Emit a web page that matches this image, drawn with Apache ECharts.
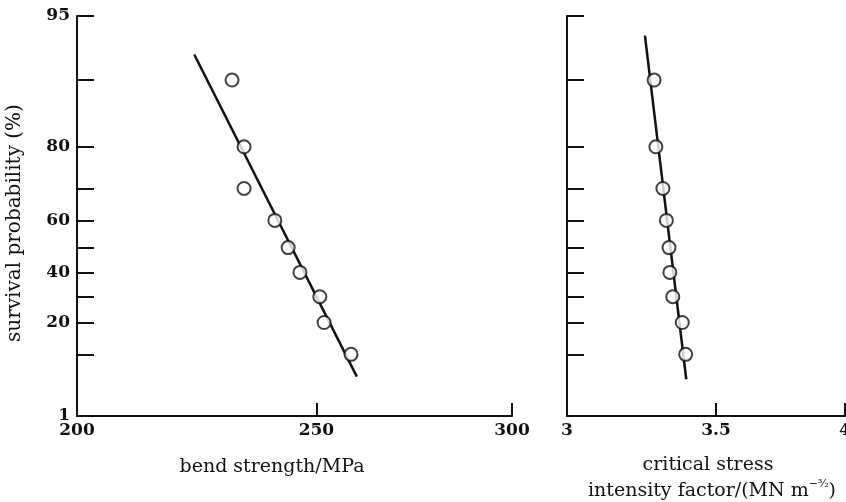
<!DOCTYPE html>
<html>
<head>
<meta charset="utf-8">
<script src="https://cdn.jsdelivr.net/npm/echarts@6/dist/echarts.min.js"></script>
<style>html,body{margin:0;padding:0;background:#fff}#c{width:846px;height:502px}</style>
</head>
<body>
<div id="c"></div>
<script>
// ---- data ----
const survival = [90, 80, 70, 60, 50, 40, 30, 20, 10];               // %
const bendStrength = [231.1, 233.7, 233.7, 240.5, 243.5, 246.2, 250.8, 251.8, 258.2]; // MPa
const toughness = [3.283, 3.289, 3.313, 3.325, 3.334, 3.337, 3.347, 3.380, 3.392];    // MN m^-3/2
const bendFitStrength = [223.1, 259.6];
const bendFitSurvival = [92.4, 5.2];
const toughFitValue = [3.252, 3.394];
const toughFitSurvival = [93.8, 4.75];
const yTickValues = [95, 90, 80, 70, 60, 50, 40, 30, 20, 10, 1];
const yTickLabels = [95, 80, 60, 40, 20, 1];
const bendTicks = [200, 250, 300];
const toughTicks = [3, 3.5, 4];

// Weibull probability scale: ln(ln(1/S)) on y, ln(x) on x
const T = s => -Math.log(Math.log(100 / s));
const Tinv = v => 100 * Math.exp(-Math.exp(-v));
const L = Math.log;

const serif = '"DejaVu Serif", "Liberation Serif", serif';
const tickFont = {fontFamily: serif, fontWeight: 'bold', fontSize: 17, color: '#111'};
const axisLine = {show: true, onZero: false, lineStyle: {color: '#111', width: 2}};

function yAxisCfg(gridIndex, labels) {
  return {
    type: 'value', gridIndex, min: T(1), max: T(95),
    axisLine, splitLine: {show: false},
    axisTick: {show: true, inside: true, length: 17, lineStyle: {color: '#111', width: 2},
      customValues: yTickValues.map(T)},
    axisLabel: Object.assign({show: labels, margin: 7,
      customValues: yTickLabels.map(T),
      formatter: v => String(Math.round(Tinv(v)))}, tickFont)
  };
}
function xAxisCfg(gridIndex, ticks, fmt) {
  return {
    type: 'value', gridIndex, min: L(ticks[0]), max: L(ticks[ticks.length - 1]),
    axisLine, splitLine: {show: false},
    axisTick: {show: true, inside: true, length: 13, lineStyle: {color: '#111', width: 2},
      customValues: ticks.map(L)},
    axisLabel: Object.assign({margin: 6, customValues: ticks.map(L),
      formatter: v => fmt(Math.exp(v))}, tickFont)
  };
}

const pointStyle = {color: '#fff', borderColor: '#111', borderWidth: 2};
const chart = echarts.init(document.getElementById('c'), null, {renderer: 'canvas'});
chart.setOption({
  animation: false,
  backgroundColor: '#fff',
  grid: [
    {left: 77, right: 334, top: 16, bottom: 86, containLabel: false, outerBoundsMode: 'none'},
    {left: 567, right: 1, top: 16, bottom: 86, containLabel: false, outerBoundsMode: 'none'}
  ],
  xAxis: [
    xAxisCfg(0, bendTicks, x => String(Math.round(x))),
    xAxisCfg(1, toughTicks, x => String(Math.round(x * 10) / 10))
  ],
  yAxis: [yAxisCfg(0, true), yAxisCfg(1, false)],
  series: [
    {type: 'line', xAxisIndex: 0, yAxisIndex: 0, symbol: 'none',
      lineStyle: {color: '#111', width: 2.5},
      data: bendFitStrength.map((x, i) => [L(x), T(bendFitSurvival[i])]), z: 2},
    {type: 'scatter', xAxisIndex: 0, yAxisIndex: 0, symbol: 'circle', symbolSize: 13,
      itemStyle: pointStyle, data: bendStrength.map((x, i) => [L(x), T(survival[i])]), z: 3},
    {type: 'line', xAxisIndex: 1, yAxisIndex: 1, symbol: 'none',
      lineStyle: {color: '#111', width: 2.5},
      data: toughFitValue.map((x, i) => [L(x), T(toughFitSurvival[i])]), z: 2},
    {type: 'scatter', xAxisIndex: 1, yAxisIndex: 1, symbol: 'circle', symbolSize: 13,
      itemStyle: pointStyle, data: toughness.map((x, i) => [L(x), T(survival[i])]), z: 3}
  ],
  graphic: [
    {type: 'text', x: 15, y: 223, rotation: Math.PI / 2,
      style: {text: 'survival probability (%)', font: '20px ' + serif, fill: '#111',
        align: 'center', verticalAlign: 'middle'}},
    {type: 'text', x: 272, y: 467,
      style: {text: 'bend strength/MPa', font: '19px ' + serif, fill: '#111',
        align: 'center', verticalAlign: 'middle'}},
    {type: 'text', x: 708, y: 465,
      style: {text: 'critical stress', font: '19px ' + serif, fill: '#111',
        align: 'center', verticalAlign: 'middle'}},
    {type: 'text', x: 712, y: 490,
      style: {text: '{n|intensity factor/(MN m}{s|−³⁄₂}{n|)}', align: 'center', verticalAlign: 'middle',
        rich: {
          n: {fontFamily: serif, fontSize: 19, fill: '#111', color: '#111', lineHeight: 22, verticalAlign: 'bottom'},
          s: {fontFamily: serif, fontSize: 11, fill: '#111', color: '#111', lineHeight: 22, verticalAlign: 'top'}
        }}}
  ]
});
</script>
</body>
</html>
